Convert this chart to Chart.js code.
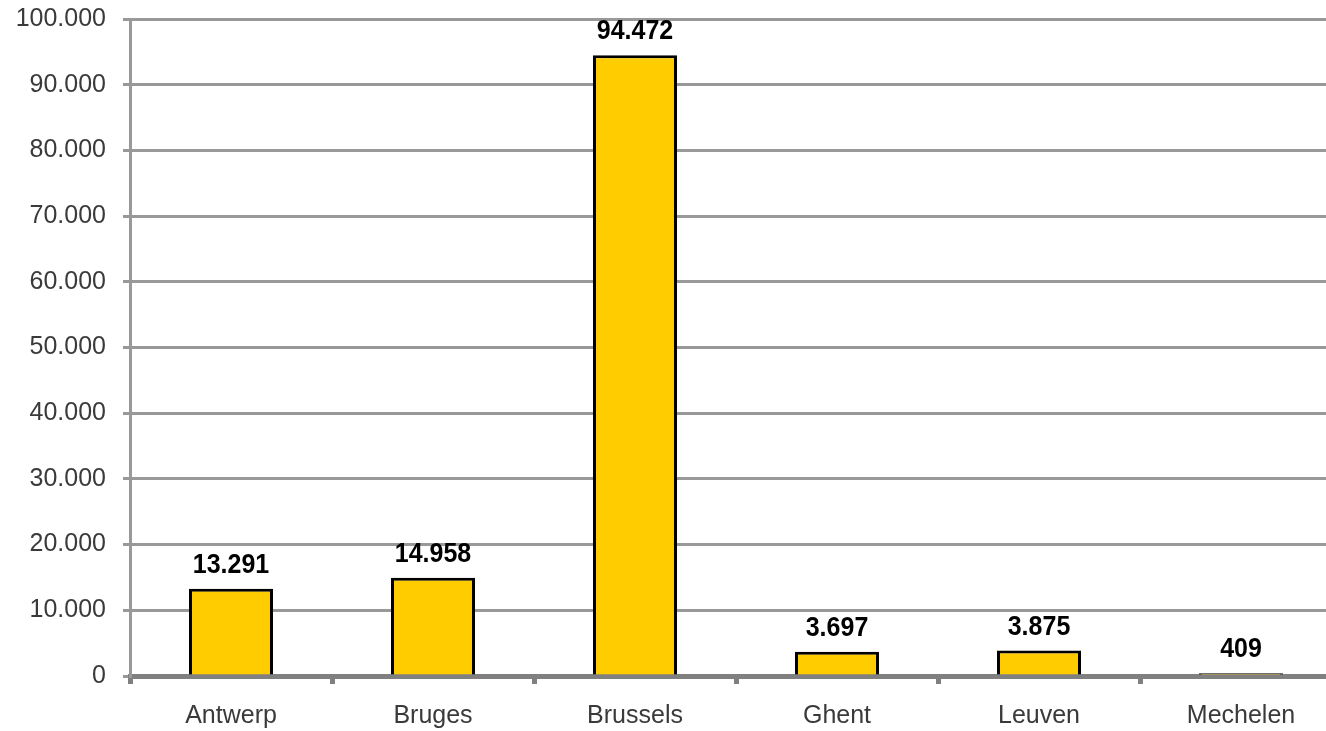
<!DOCTYPE html>
<html>
<head>
<meta charset="utf-8">
<script src="https://cdn.jsdelivr.net/npm/chart.js@4.4.1/dist/chart.umd.min.js"></script>
<style>
    html, body { margin: 0; padding: 0; background: #fff; overflow: hidden; }
    /* the plot runs a little past the right edge of the frame */
    #wrap { width: 1326px; height: 731px; overflow: hidden; }
</style>
</head>
<body>
<div id="wrap"><canvas id="chart" width="1352" height="731"></canvas></div>
<script>
const cities = ['Antwerp', 'Bruges', 'Brussels', 'Ghent', 'Leuven', 'Mechelen'];
const visitors = [13291, 14958, 94472, 3697, 3875, 409];
const yTicks = [0, 10000, 20000, 30000, 40000, 50000, 60000, 70000, 80000, 90000, 100000];

const fontFamily = '"Liberation Sans", Arial, sans-serif';

// Dutch style thousands separator: 13.291
function formatNumber(value) {
    return String(value).replace(/\B(?=(\d{3})+(?!\d))/g, '.');
}

// bold value above each bar, slightly stretched vertically
const valueLabels = {
    id: 'valueLabels',
    afterDatasetsDraw(chart) {
        const ctx = chart.ctx;
        const meta = chart.getDatasetMeta(0);
        meta.data.forEach((bar, i) => {
            ctx.save();
            ctx.translate(bar.x, bar.y - 16);
            ctx.scale(1, 1.12);
            ctx.font = 'bold 25px ' + fontFamily;
            ctx.fillStyle = '#000';
            ctx.textAlign = 'center';
            ctx.textBaseline = 'alphabetic';
            ctx.fillText(formatNumber(visitors[i]), 0, 0);
            ctx.restore();
        });
    }
};

new Chart(document.getElementById('chart').getContext('2d'), {
    type: 'bar',
    data: {
        labels: cities,
        datasets: [{
            data: visitors,
            backgroundColor: '#FFCC00',
            borderColor: '#000',
            borderWidth: 3,
            borderSkipped: 'bottom',
            categoryPercentage: 0.416,
            barPercentage: 1
        }]
    },
    options: {
        responsive: false,
        animation: false,
        layout: { padding: { top: 19, right: 10, left: 0, bottom: 0 } },
        plugins: {
            legend: { display: false },
            tooltip: { enabled: false }
        },
        scales: {
            x: {
                offset: true,
                afterFit(scale) {
                    scale.height = 55;
                    scale.paddingLeft = 0;
                    scale.paddingRight = 0;
                },
                border: { display: true, color: '#808080', width: 5 },
                grid: {
                    offset: true,
                    drawOnChartArea: false,
                    drawTicks: true,
                    tickLength: 8,
                    tickWidth: 5,
                    tickColor: '#808080'
                },
                ticks: {
                    color: '#3a3a3a',
                    padding: 17,
                    font: { family: fontFamily, size: 25 }
                }
            },
            y: {
                min: 0,
                max: 100000,
                afterFit(scale) {
                    scale.width = 130;
                    scale.paddingTop = 0;
                    scale.paddingBottom = 0;
                },
                afterBuildTicks(scale) {
                    scale.ticks = yTicks.map(v => ({ value: v }));
                },
                border: { display: true, color: '#999', width: 3 },
                grid: {
                    color: '#999',
                    lineWidth: 3,
                    drawTicks: true,
                    tickLength: 7,
                    tickWidth: 3
                },
                ticks: {
                    color: '#3a3a3a',
                    padding: 17,
                    font: { family: fontFamily, size: 25 },
                    callback: value => formatNumber(value)
                }
            }
        }
    },
    plugins: [valueLabels]
});
</script>
</body>
</html>
